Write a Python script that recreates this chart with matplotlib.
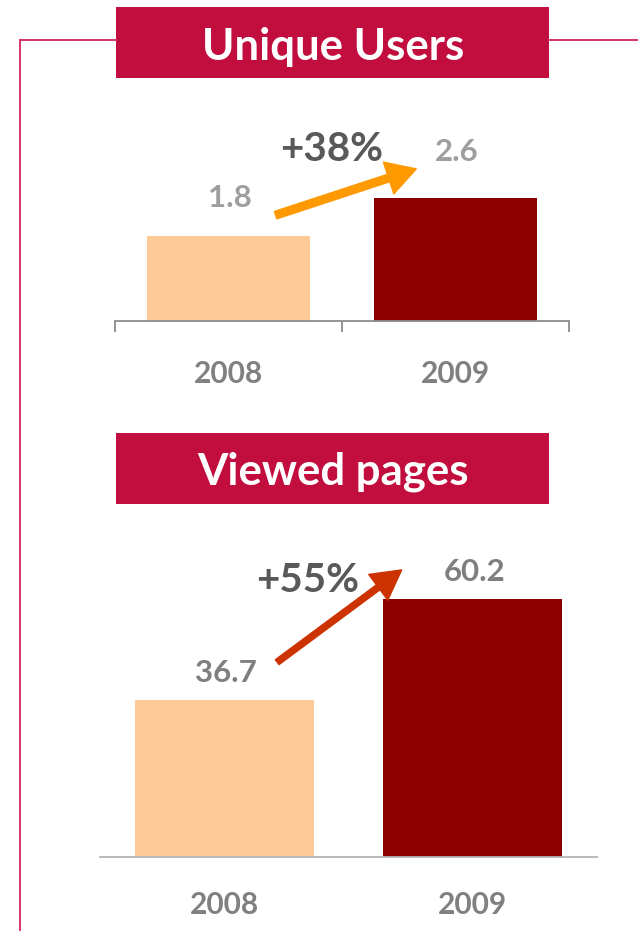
import matplotlib
matplotlib.use('Agg')
import matplotlib.pyplot as plt
from matplotlib.patches import Rectangle, FancyArrowPatch
from matplotlib.lines import Line2D

plt.rcParams['font.family'] = ['Lato', 'DejaVu Sans']
plt.rcParams['font.weight'] = 'bold'

years = ['2008', '2009']
users = [1.8, 2.6]
pages = [36.7, 60.2]
users_growth = '+38%'
pages_growth = '+55%'

W, H = 638, 931
bar_colors = ['#fdca98', '#8e0000']
crimson = '#c20e3e'
frame_col = '#d6336c'

def fx(px): return px / W
def fy(py): return 1 - py / H

fig = plt.figure(figsize=(W/100, H/100), dpi=100)

# frame lines
fig.add_artist(Line2D([fx(20), fx(116)], [fy(40), fy(40)], color=frame_col, lw=1.4))
fig.add_artist(Line2D([fx(549), fx(638)], [fy(40), fy(40)], color=frame_col, lw=1.4))
fig.add_artist(Line2D([fx(20), fx(20)], [fy(40), fy(931)], color=frame_col, lw=1.4))

def title_box(top, bottom, text, baseline):
    fig.add_artist(Rectangle((fx(116), fy(bottom)), fx(549) - fx(116), fy(top) - fy(bottom),
                             transform=fig.transFigure, color=crimson, lw=0))
    fig.text(fx(333), fy(baseline), text, color='white', fontsize=31.5,
             fontweight='bold', ha='center', va='baseline')

title_box(7, 78, 'Unique Users', 60)
title_box(433, 504, 'Viewed pages', 484)

def bar_panel(left, right, bottom, top, vals, ylim, label_off, cat_off, val_col, spine_col, ticks):
    ax = fig.add_axes([fx(left), fy(bottom), fx(right) - fx(left), fy(top) - fy(bottom)])
    x = range(len(vals))
    ax.bar(x, vals, width=0.72, color=bar_colors)
    ax.set_xlim(-0.5, 1.5)
    ax.set_ylim(0, ylim)
    for s in ['top', 'right', 'left']:
        ax.spines[s].set_visible(False)
    ax.spines['bottom'].set_color(spine_col)
    ax.spines['bottom'].set_linewidth(1.3)
    ax.set_yticks([])
    if ticks:
        ax.set_xticks([-0.5, 0.5, 1.5])
        ax.tick_params(axis='x', length=8, width=1.3, color=spine_col, labelbottom=False)
    else:
        ax.set_xticks([])
    for i, v in enumerate(vals):
        ax.annotate(f'{v:.1f}', (i, v), xytext=(1, label_off[i]), textcoords='offset points',
                    ha='center', va='center', fontsize=22.5, color=val_col)
        ax.annotate(years[i], (i, 0), xytext=(0, -cat_off), textcoords='offset points',
                    ha='center', va='center', fontsize=21.5, color='#808080')
    return ax

ax1 = bar_panel(115, 569, 321, 131, users, 4.0, [27, 33], 38, '#9e9e9e', '#8c8c8c', True)
ax2 = bar_panel(100, 597, 857, 540, pages, 74.0, [19, 19.5], 34.5, '#7f7f7f', '#b4b4b4', False)

# growth arrows
a1 = FancyArrowPatch((0.196, 2.21), (0.839, 3.22), mutation_scale=1, lw=1,
                     arrowstyle='simple,head_length=21,head_width=24,tail_width=5.6',
                     color='#ff9900', capstyle='round', joinstyle='round')
ax1.add_patch(a1)
ax1.text(0.456, 3.62, users_growth, ha='center', va='center', fontsize=29, color='#595959')

a2 = FancyArrowPatch((0.204, 45.1), (0.723, 67.4), mutation_scale=1, lw=1,
                     arrowstyle='simple,head_length=21,head_width=23,tail_width=4.4',
                     color='#cc3300', capstyle='round', joinstyle='round')
ax2.add_patch(a2)
ax2.text(0.337, 64.6, pages_growth, ha='center', va='center', fontsize=29, color='#595959')

fig.savefig('out.png', dpi=100)
